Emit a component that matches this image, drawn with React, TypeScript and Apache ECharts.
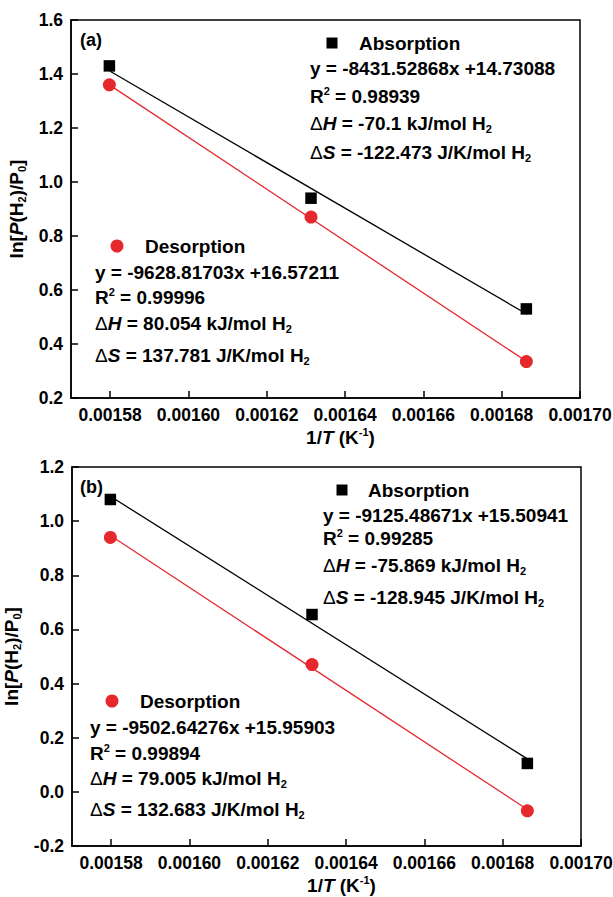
import React, { useEffect, useRef } from 'react';
import * as echarts from 'echarts';

const FF = '"Liberation Sans", Arial, Helvetica, sans-serif';
const RED = '#e5282c';

// tick labels
const xTickLabels = ['0.00158', '0.00160', '0.00162', '0.00164', '0.00166', '0.00168', '0.00170'];
const yRangeA = [0.2, 1.6];
const yRangeB = [-0.2, 1.2];
const xRange = [0.00157, 0.0017];

// data (1/T in K^-1)
const invT = [0.0015798, 0.0016313, 0.0016863];
const absA = [1.43, 0.94, 0.53];
const desA = [1.36, 0.87, 0.335];
const absB = [1.08, 0.655, 0.105];
const desB = [0.94, 0.47, -0.07];

// fitted line end points
const fitX = [0.00158, 0.0016865];
const fitAbsA = [1.41, 0.51];
const fitDesA = [1.358, 0.334];
const fitAbsB = [1.09, 0.12];
const fitDesB = [0.945, -0.067];

// annotation texts
const textsAbsA = ['y = -8431.52868x +14.73088', '0.98939', '-70.1 kJ/mol', '-122.473 J/K/mol'];
const textsDesA = ['y = -9628.81703x +16.57211', '0.99996', '80.054 kJ/mol', '137.781 J/K/mol'];
const textsAbsB = ['y = -9125.48671x +15.50941', '0.99285', '-75.869 kJ/mol', '-128.945 J/K/mol'];
const textsDesB = ['y = -9502.64276x +15.95903', '0.99894', '79.005 kJ/mol', '132.683 J/K/mol'];

const base = { fontSize: 19, fontWeight: 'bold', fontFamily: FF, lineHeight: 22 };
const subBase = { fontSize: 11, fontWeight: 'bold', fontFamily: FF, lineHeight: 6, verticalAlign: 'bottom' };
const supBase = { fontSize: 11, fontWeight: 'bold', fontFamily: FF, lineHeight: 12, verticalAlign: 'top' };
const graphicRich: any = {
  b: { ...base, fill: '#000' },
  i: { ...base, fill: '#000', fontStyle: 'italic' },
  d: { ...base, fill: '#000', fontWeight: 'normal' },
  sub: { ...subBase, fill: '#000' },
  sup: { ...supBase, fill: '#000' },
};
const labelRich: any = {
  b: { ...base, color: '#000' },
  i: { ...base, color: '#000', fontStyle: 'italic' },
  sub: { ...subBase, color: '#000' },
  sup: { ...supBase, color: '#000' },
};

function txt(x: number, y: number, text: string) {
  return {
    type: 'text',
    x,
    y,
    style: { text, rich: graphicRich, align: 'left', verticalAlign: 'middle', fill: '#000' },
  };
}

function block(
  sym: 'rect' | 'circle',
  color: string,
  symX: number,
  symY: number,
  nameX: number,
  name: string,
  lineX: number,
  ys: number[],
  t: string[]
) {
  const els: any[] = [];
  if (sym === 'rect') {
    els.push({ type: 'rect', shape: { x: symX - 5.5, y: symY - 5.5, width: 11, height: 11 }, style: { fill: color } });
  } else {
    els.push({ type: 'circle', shape: { cx: symX, cy: symY, r: 6.5 }, style: { fill: color } });
  }
  els.push(txt(nameX, symY, `{b|${name}}`));
  els.push(txt(lineX, ys[0], `{b|${t[0]}}`));
  els.push(txt(lineX, ys[1], `{b|R}{sup|2}{b| = ${t[1]}}`));
  els.push(txt(lineX, ys[2], `{d|Δ}{i|H}{b| = ${t[2]} H}{sub|2}`));
  els.push(txt(lineX, ys[3], `{d|Δ}{i|S}{b| = ${t[3]} H}{sub|2}`));
  return els;
}

function pairs(xs: number[], ys: number[]) {
  return xs.map((x, i) => [x, ys[i]]);
}

export default function App() {
  const ref = useRef<HTMLDivElement>(null);
  useEffect(() => {
    if (!ref.current) return;
    const chart = echarts.init(ref.current, null, { renderer: 'svg' });
    const xTicks = xTickLabels.map((s) => parseFloat(s));
    const mkX = (gi: number) => ({
      type: 'value',
      gridIndex: gi,
      min: xRange[0],
      max: xRange[1],
      axisLine: { show: true, onZero: false, lineStyle: { color: '#000', width: 1.5 } },
      axisTick: { show: true, inside: true, length: 7, lineStyle: { color: '#000', width: 1.5 }, customValues: xTicks },
      axisLabel: {
        customValues: xTicks,
        formatter: (v: number) => v.toFixed(5),
        color: '#000',
        fontSize: 17.5,
        fontWeight: 'bold',
        fontFamily: FF,
        margin: 8,
      },
      splitLine: { show: false },
      name: '{b|1/}{i|T}{b| (K}{sup|-1}{b|)}',
      nameLocation: 'middle',
      nameGap: 28,
      nameTextStyle: { rich: labelRich, padding: [0, 0, 0, 30] },
    });
    const mkY = (gi: number, r: number[]) => ({
      type: 'value',
      gridIndex: gi,
      min: r[0],
      max: r[1],
      interval: 0.2,
      axisLine: { show: true, onZero: false, lineStyle: { color: '#000', width: 1.5 } },
      axisTick: { show: true, inside: true, length: 7, lineStyle: { color: '#000', width: 1.5 } },
      axisLabel: {
        formatter: (v: number) => v.toFixed(1),
        color: '#000',
        fontSize: 17.5,
        fontWeight: 'bold',
        fontFamily: FF,
        margin: 8,
      },
      splitLine: { show: false },
      name: '{b|ln[}{i|P}{b|(H}{sub|2}{b|)/P}{sub|0}{b|]}',
      nameLocation: 'middle',
      nameRotate: 90,
      nameGap: 34,
      nameTextStyle: { rich: labelRich },
    });
    const lineS = (name: string, gi: number, ys: number[], color: string) => ({
      name,
      type: 'line',
      xAxisIndex: gi,
      yAxisIndex: gi,
      data: pairs(fitX, ys),
      showSymbol: false,
      symbol: 'none',
      lineStyle: { color, width: 1.3 },
      z: 2,
    });
    const scat = (name: string, gi: number, ys: number[], color: string, sym: string, size: number) => ({
      name,
      type: 'scatter',
      xAxisIndex: gi,
      yAxisIndex: gi,
      data: pairs(invT, ys),
      symbol: sym,
      symbolSize: size,
      itemStyle: { color, opacity: 1 },
      z: 3,
    });
    const option: any = {
      animation: false,
      backgroundColor: '#fff',
      grid: [
        { left: 71, top: 20, width: 509, height: 378, show: true, borderColor: '#000', borderWidth: 1.5, outerBoundsMode: 'none', containLabel: false },
        { left: 72, top: 467, width: 509, height: 379, show: true, borderColor: '#000', borderWidth: 1.5, outerBoundsMode: 'none', containLabel: false },
      ],
      xAxis: [mkX(0), mkX(1)],
      yAxis: [mkY(0, yRangeA), mkY(1, yRangeB)],
      series: [
        lineS('Absorption fit (a)', 0, fitAbsA, '#000'),
        lineS('Desorption fit (a)', 0, fitDesA, RED),
        scat('Absorption (a)', 0, absA, '#000', 'rect', 11.5),
        scat('Desorption (a)', 0, desA, RED, 'circle', 13),
        lineS('Absorption fit (b)', 1, fitAbsB, '#000'),
        lineS('Desorption fit (b)', 1, fitDesB, RED),
        scat('Absorption (b)', 1, absB, '#000', 'rect', 11.5),
        scat('Desorption (b)', 1, desB, RED, 'circle', 13),
      ],
      graphic: [
        { type: 'text', x: 80, y: 40, style: { text: '(a)', fontSize: 18, fontWeight: 'bold', fontFamily: FF, fill: '#000', verticalAlign: 'middle' } },
        { type: 'text', x: 80, y: 487, style: { text: '(b)', fontSize: 18, fontWeight: 'bold', fontFamily: FF, fill: '#000', verticalAlign: 'middle' } },
        ...block('rect', '#000', 332, 43, 359, 'Absorption', 310, [68, 96, 123, 152], textsAbsA),
        ...block('circle', RED, 117, 246, 145, 'Desorption', 95, [272, 297, 323, 355], textsDesA),
        ...block('rect', '#000', 342, 490, 368, 'Absorption', 323, [515, 538, 565, 597], textsAbsB),
        ...block('circle', RED, 112, 701, 140, 'Desorption', 90, [727, 753, 778, 809], textsDesB),
      ],
    };
    chart.setOption(option);
    return () => chart.dispose();
  }, []);
  return (
    <div
      ref={ref}
      style={{ position: 'absolute', left: 0, top: 0, width: 613, height: 897, background: '#fff' }}
    />
  );
}
